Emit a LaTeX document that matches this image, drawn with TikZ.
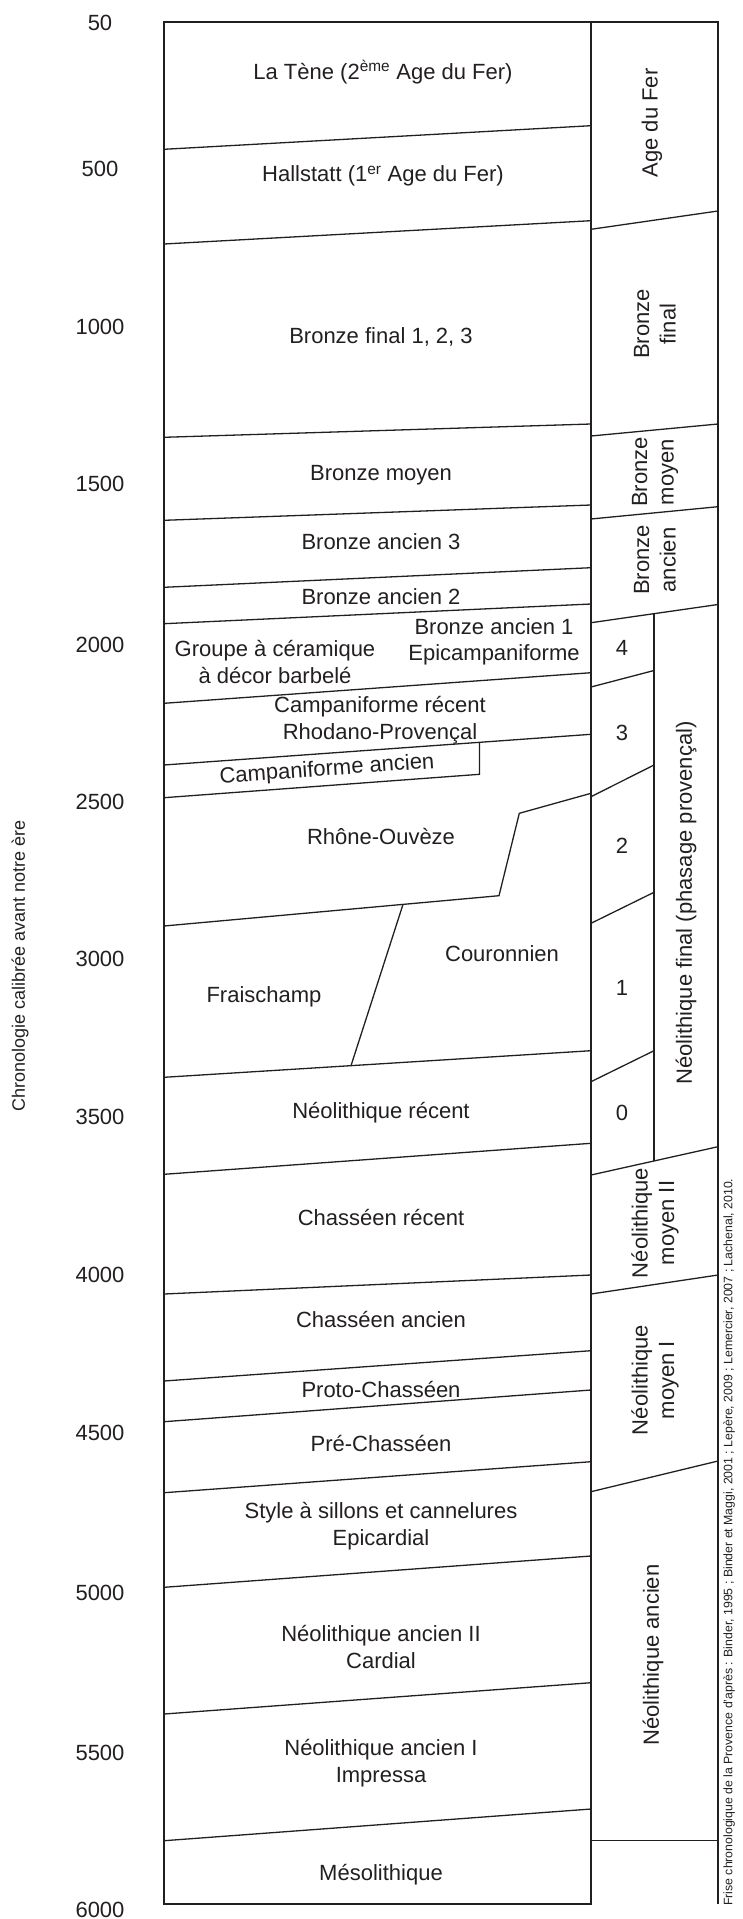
\documentclass[tikz,border=0pt]{standalone}
\usepackage{fontspec}
\setmainfont{Liberation Sans}

\definecolor{ink}{RGB}{35,31,32}

\tikzstyle{period} = [text=ink, font=\fontsize{22}{26.5}\selectfont, align=center, inner sep=0pt]
\tikzstyle{phase} = [period, rotate=90]
\tikzstyle{year} = [period]
\tikzstyle{caption} = [text=ink, inner sep=0pt, rotate=90]
\tikzstyle{limit} = [draw=ink, line width=1.3pt]
\tikzstyle{frame} = [draw=ink, line width=1.6pt]

\begin{document}
\begin{tikzpicture}[x=1pt, y=-1pt]

  \useasboundingbox (0,0) rectangle (743,1919);

  % --- frame --- %

  \draw [frame] (164,22) rectangle (591,1904);
  \draw [frame] (591,22) -- (718,22) -- (718,1904);
  \draw [limit] (654,613.5) -- (654,1161);

  % --- years --- %

  \node (y50) [year] at (100,22.5) {50};
  \node (y500) [year] at (100,169) {500};
  \node (y1000) [year] at (100,327) {1000};
  \node (y1500) [year] at (100,484) {1500};
  \node (y2000) [year] at (100,645) {2000};
  \node (y2500) [year] at (100,802) {2500};
  \node (y3000) [year] at (100,959) {3000};
  \node (y3500) [year] at (100,1117) {3500};
  \node (y4000) [year] at (100,1275) {4000};
  \node (y4500) [year] at (100,1433) {4500};
  \node (y5000) [year] at (100,1593) {5000};
  \node (y5500) [year] at (100,1753) {5500};
  \node (y6000) [year] at (100,1910) {6000};

  \node (axis) [caption, font=\fontsize{18}{21}\selectfont] at (20,966) {Chronologie calibrée avant notre ère};

  % --- cultures --- %

  \draw [limit] (164,149.3) -- (591,125.7);
  \draw [limit] (164,244) -- (591,220.7);
  \draw [limit] (164,437.3) -- (591,424);
  \draw [limit] (164,520.3) -- (591,505);
  \draw [limit] (164,587.3) -- (591,567.7);
  \draw [limit] (164,623.7) -- (591,604);
  \draw [limit] (164,703.3) -- (591,672.7);
  \draw [limit] (164,765) -- (591,734.3);
  \draw [limit] (164,797.7) -- (479.5,774.3) -- (479.5,742.6);
  \draw [limit] (164,926) -- (499,895.7) -- (519.3,813.3) -- (591,793.3);
  \draw [limit] (403,904.4) -- (351,1065.7);
  \draw [limit] (164,1077.3) -- (591,1050.7);
  \draw [limit] (164,1174.3) -- (591,1143.3);
  \draw [limit] (164,1294) -- (591,1275);
  \draw [limit] (164,1381) -- (591,1350.7);
  \draw [limit] (164,1421.7) -- (591,1390);
  \draw [limit] (164,1492.7) -- (591,1461.7);
  \draw [limit] (164,1587.3) -- (591,1556);
  \draw [limit] (164,1714) -- (591,1682.7);
  \draw [limit] (164,1840.7) -- (591,1809);

  \node (latene) [period] at (383,72) {La Tène (2\textsuperscript{ème} Age du Fer)};
  \node (hallstatt) [period] at (383,176) {Hallstatt (1\textsuperscript{er} Age du Fer)};
  \node (bfinal) [period] at (381,337) {Bronze final 1, 2, 3};
  \node (bmoyen) [period] at (381,475) {Bronze moyen};
  \node (bancien3) [period] at (381,542) {Bronze ancien 3};
  \node (bancien2) [period] at (381,597) {Bronze ancien 2};
  \node (bancien1) [period] at (494,642) {Bronze ancien 1\\Epicampaniforme};
  \node (barbele) [period] at (275,662) {Groupe à céramique\\à décor barbelé};
  \node (camprec) [period] at (380,720) {Campaniforme récent\\Rhodano-Provençal};
  \node (campanc) [period, rotate=4] at (327,770) {Campaniforme ancien};
  \node (rhone) [period] at (381,836) {Rhône-Ouvèze};
  \node (couronnien) [period] at (502,954) {Couronnien};
  \node (fraischamp) [period] at (264,997) {Fraischamp};
  \node (nrecent) [period] at (381,1113) {Néolithique récent};
  \node (chrecent) [period] at (381,1217) {Chasséen récent};
  \node (chancien) [period] at (381,1319) {Chasséen ancien};
  \node (protoch) [period] at (381,1389) {Proto-Chasséen};
  \node (prech) [period] at (381,1443) {Pré-Chasséen};
  \node (epicardial) [period] at (381,1526) {Style à sillons et cannelures\\Epicardial};
  \node (cardial) [period] at (381,1647) {Néolithique ancien II\\Cardial};
  \node (impressa) [period] at (381,1763) {Néolithique ancien I\\Impressa};
  \node (meso) [period] at (381,1875) {Mésolithique};

  % --- phases --- %

  \draw [limit] (591,229.3) -- (718,211);
  \draw [limit] (591,436) -- (718,424);
  \draw [limit] (591,519) -- (718,506.7);
  \draw [limit] (591,622.7) -- (718,604.5);
  \draw [limit] (591,687) -- (654,670.5);
  \draw [limit] (591,796.7) -- (654,765);
  \draw [limit] (591,923.3) -- (654,892.3);
  \draw [limit] (591,1081.7) -- (654,1050.7);
  \draw [limit] (591,1175) -- (718,1146.7);
  \draw [limit] (591,1294) -- (718,1275);
  \draw [limit] (591,1491.7) -- (718,1461);
  \draw [limit] (591,1840.7) -- (718,1840.7);

  \node (fer) [phase] at (652,123) {Age du Fer};
  \node (pbfinal) [phase] at (655,324) {Bronze\\final};
  \node (pbmoyen) [phase] at (655,472) {Bronze\\moyen};
  \node (pbancien) [phase] at (655,560) {Bronze\\ancien};
  \node (nfinal) [phase] at (686,903) {Néolithique final (phasage provençal)};
  \node (nmoyen2) [phase] at (655,1223) {Néolithique\\moyen II};
  \node (nmoyen1) [phase] at (655,1380) {Néolithique\\moyen I};
  \node (nancien) [phase] at (653,1655) {Néolithique ancien};

  \node (p4) [period] at (622,648) {4};
  \node (p3) [period] at (622,733) {3};
  \node (p2) [period] at (622,846) {2};
  \node (p1) [period] at (622,988) {1};
  \node (p0) [period] at (622,1113) {0};

  \node (source) [caption, font=\fontsize{12.3}{14}\selectfont, anchor=west] at (729,1906) {Frise chronologique de la Provence d’après : Binder, 1995 ; Binder et Maggi, 2001 ; Lepère, 2009 ; Lemercier, 2007 ; Lachenal, 2010.};

\end{tikzpicture}
\end{document}
